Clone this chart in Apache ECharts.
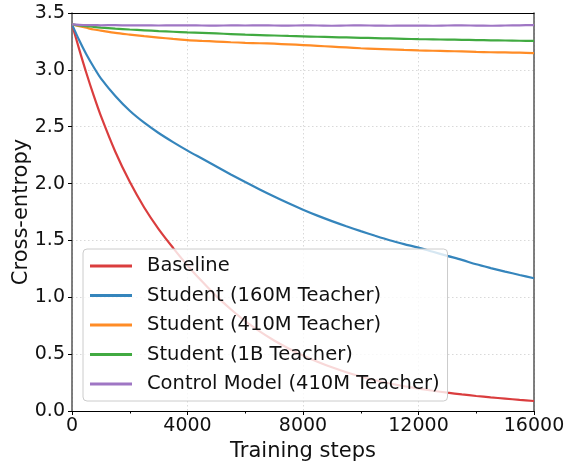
<!DOCTYPE html>
<html>
<head>
<meta charset="utf-8">
<script src="https://cdn.jsdelivr.net/npm/echarts@6/dist/echarts.min.js"></script>
<style>
  html, body { margin: 0; padding: 0; background: #fff; }
  #chart { width: 565px; height: 464px; }
</style>
</head>
<body>
<div id="chart"></div>
<script>
// Training steps at which the loss was logged
const steps = [0, 250, 500, 750, 1000, 1500, 2000, 2500, 3000, 3500, 4000, 4500, 5000, 5500, 6000,
  6500, 7000, 7500, 8000, 8500, 9000, 9500, 10000, 10500, 11000, 11500, 12000, 12500, 13000,
  13500, 14000, 14500, 15000, 15500, 16000];

const baseline = [3.40, 3.18, 2.97, 2.775, 2.595, 2.28, 2.015, 1.79, 1.60, 1.435, 1.28, 1.14, 1.01, 0.895, 0.79,
  0.70, 0.62, 0.55, 0.488, 0.433, 0.384, 0.341, 0.303, 0.27, 0.242, 0.218, 0.197, 0.178, 0.161,
  0.146, 0.132, 0.12, 0.109, 0.098, 0.088];

const student160M = [3.40, 3.26, 3.135, 3.025, 2.925, 2.77, 2.64, 2.535, 2.445, 2.365, 2.29, 2.22, 2.15, 2.08, 2.013,
  1.948, 1.886, 1.826, 1.77, 1.718, 1.67, 1.625, 1.582, 1.541, 1.502, 1.468, 1.437, 1.40, 1.364,
  1.329, 1.29, 1.257, 1.226, 1.196, 1.167];

const student410M = [3.40, 3.385, 3.37, 3.355, 3.345, 3.325, 3.31, 3.296, 3.284, 3.272, 3.262, 3.255, 3.249, 3.243, 3.238,
  3.234, 3.23, 3.224, 3.218, 3.211, 3.204, 3.197, 3.19, 3.185, 3.18, 3.175, 3.171, 3.168, 3.165,
  3.162, 3.158, 3.155, 3.153, 3.151, 3.148];

const student1B = [3.40, 3.39, 3.385, 3.378, 3.372, 3.363, 3.355, 3.348, 3.341, 3.335, 3.329, 3.325, 3.32, 3.315, 3.31,
  3.306, 3.302, 3.298, 3.295, 3.291, 3.288, 3.285, 3.282, 3.279, 3.276, 3.273, 3.27, 3.268, 3.266,
  3.264, 3.262, 3.26, 3.258, 3.256, 3.255];

const control410M = [3.40, 3.395, 3.393, 3.394, 3.392, 3.393, 3.391, 3.392, 3.39, 3.391, 3.392, 3.39, 3.389, 3.391, 3.39,
  3.392, 3.39, 3.389, 3.391, 3.39, 3.388, 3.39, 3.391, 3.389, 3.388, 3.39, 3.389, 3.388, 3.39,
  3.391, 3.389, 3.388, 3.39, 3.392, 3.393];

const seriesNames = ['Baseline', 'Student (160M Teacher)', 'Student (410M Teacher)',
  'Student (1B Teacher)', 'Control Model (410M Teacher)'];
const seriesValues = [baseline, student160M, student410M, student1B, control410M];
const seriesColors = ['#da3d3e', '#3585bc', '#ff8c26', '#41aa41', '#9f76c4'];

const xTicks = { min: 0, max: 16000, interval: 4000 };
const yTicks = { min: 0, max: 3.5, interval: 0.5 };

const font = 'DejaVu Sans';
const chart = echarts.init(document.getElementById('chart'), null, { renderer: 'canvas' });

const gridLine = { show: true, lineStyle: { color: '#d9d9d9', type: [1.5, 2.5], width: 1 } };

chart.setOption({
  animation: false,
  backgroundColor: '#fff',
  textStyle: { fontFamily: font },
  grid: { left: 72, right: 31, top: 13, bottom: 53, containLabel: false, outerBoundsMode: 'none' },
  legend: {
    orient: 'vertical',
    left: 83,
    top: 249,
    icon: 'rect',
    itemWidth: 42,
    itemHeight: 3,
    itemGap: 9.5,
    padding: [7, 8, 7, 7],
    backgroundColor: 'rgba(255,255,255,0.8)',
    borderColor: '#cccccc',
    borderWidth: 1,
    borderRadius: 4,
    textStyle: { fontFamily: font, fontSize: 19.5, lineHeight: 20, color: '#111', padding: [0, 0, 0, 10] },
    data: seriesNames
  },
  xAxis: [{
    type: 'value',
    min: xTicks.min, max: xTicks.max, interval: xTicks.interval,
    name: 'Training steps',
    nameLocation: 'middle',
    nameGap: 30,
    nameMoveOverlap: false,
    nameTextStyle: { fontFamily: font, fontSize: 21, color: '#111' },
    axisLine: { show: true, onZero: false, lineStyle: { color: '#000', width: 1 } },
    axisTick: { show: true, length: 4, lineStyle: { color: '#000' } },
    minorTick: { show: true, splitNumber: 2, length: 2.5, lineStyle: { color: '#000' } },
    axisLabel: { fontFamily: font, fontSize: 19, color: '#111', margin: 6,
      formatter: v => String(v) },
    splitLine: gridLine
  }, {
    type: 'value', position: 'top',
    min: xTicks.min, max: xTicks.max, interval: xTicks.interval,
    axisLine: { show: true, onZero: false, lineStyle: { color: '#000', width: 1 } },
    axisTick: { show: false }, axisLabel: { show: false }, splitLine: { show: false }
  }],
  yAxis: [{
    type: 'value',
    min: yTicks.min, max: yTicks.max, interval: yTicks.interval,
    name: 'Cross-entropy',
    nameLocation: 'middle',
    nameGap: 40,
    nameMoveOverlap: false,
    nameTextStyle: { fontFamily: font, fontSize: 21, color: '#111' },
    axisLine: { show: true, onZero: false, lineStyle: { color: '#555', width: 1.5 } },
    axisTick: { show: true, length: 4, lineStyle: { color: '#000' } },
    axisLabel: { fontFamily: font, fontSize: 19, color: '#111', margin: 7,
      formatter: v => v.toFixed(1) },
    splitLine: gridLine
  }, {
    type: 'value', position: 'right',
    min: yTicks.min, max: yTicks.max, interval: yTicks.interval,
    axisLine: { show: true, onZero: false, lineStyle: { color: '#555', width: 1.5 } },
    axisTick: { show: false }, axisLabel: { show: false }, splitLine: { show: false }
  }],
  series: seriesNames.map((name, i) => ({
    name,
    type: 'line',
    data: steps.map((s, j) => [s, seriesValues[i][j]]),
    color: seriesColors[i],
    showSymbol: false,
    symbol: 'none',
    smooth: 0.3,
    lineStyle: { width: 2.2, color: seriesColors[i] },
    emphasis: { disabled: true }
  }))
});
</script>
</body>
</html>
